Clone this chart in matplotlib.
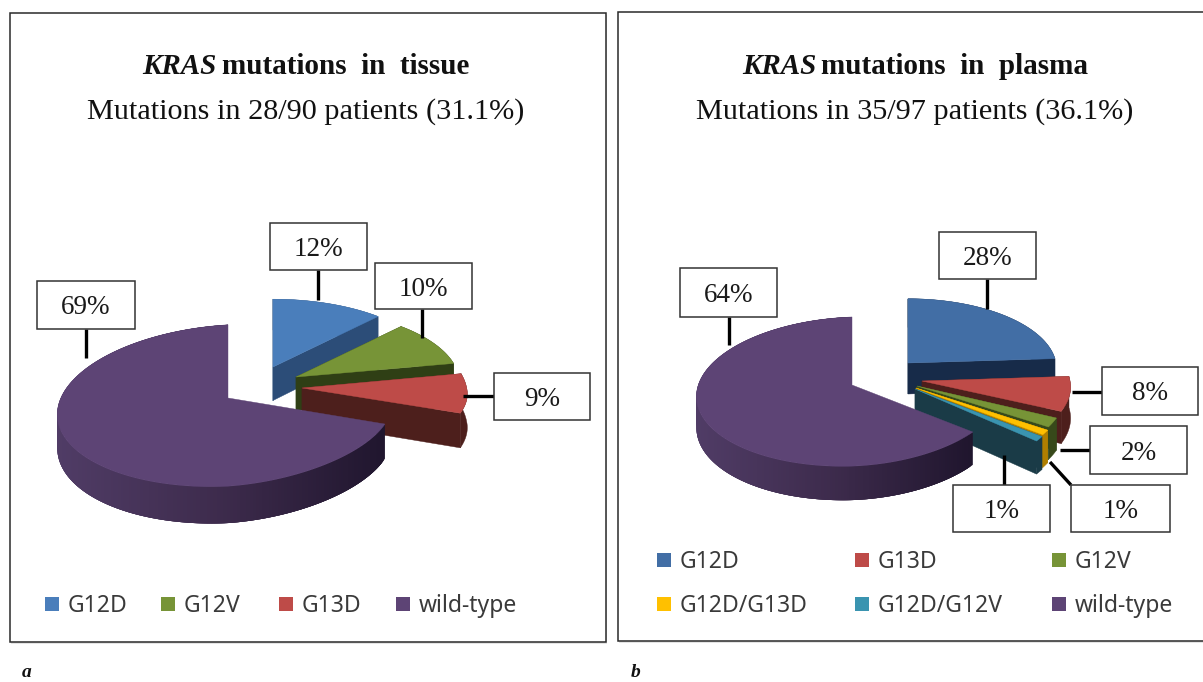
import numpy as np
import matplotlib
matplotlib.use("Agg")
import matplotlib.pyplot as plt
from matplotlib.patches import Polygon, Rectangle

# ---------- data ----------
tissue_names = ["G12D", "G12V", "G13D", "wild-type"]
tissue_values = [12, 10, 9, 69]
tissue_labels = ["12%", "10%", "9%", "69%"]

plasma_names = ["G12D", "G13D", "G12V", "G12D/G13D", "G12D/G12V", "wild-type"]
plasma_values = [24, 8, 2, 1, 1, 64]   # slice sizes as drawn
plasma_labels = ["28%", "8%", "2%", "1%", "1%", "64%"]

# ---------- styles / layout ----------
TOP = {"blue": "#4a7ebb", "blue2": "#426ea5", "green": "#779437", "red": "#be4b48",
       "purple": "#5d4475", "yellow": "#ffc000", "teal": "#3a94b0"}
t_top = [TOP["blue"], TOP["green"], TOP["red"], TOP["purple"]]
t_wall = ["#2c4d78", "#2f3f15", "#4d1f1c", None]
p_top = [TOP["blue2"], TOP["red"], TOP["green"], TOP["yellow"], TOP["teal"], TOP["purple"]]
p_wall = ["#172b49", "#4d1f1c", "#37491a", "#b07f00", "#1a3b47", None]
SERIF = "Liberation Serif"
LEG = "Noto Sans"

fig = plt.figure(figsize=(12.03, 6.82), dpi=100, facecolor="white")
ax = fig.add_axes([0, 0, 1, 1])
ax.set_xlim(0, 1203)
ax.set_ylim(682, 0)
ax.axis("off")


def proj(apex, t, sc, rx, ry, k, tilt, d=0.0):
    """Perspective projection of a point on the pie disc (t clockwise from 12 o'clock)."""
    c, s = sc[1] * np.cos(t), sc[0] * np.sin(t)
    w = 1.0 / (1.0 + k * c)
    x = np.where(s >= 0, rx[0], rx[1]) * s * w
    y = (-ry * c + d) * w
    y = y - np.where(s >= 0, tilt[0] * s * np.maximum(0, -c), tilt[1] * s)
    return apex[0] + x, apex[1] + y


def pie3d(values, apexes, tops, walls, scales, rx, ry, k, tilt, depth, grad_range):
    total = float(sum(values))
    a0 = 0.0
    for v, apex, ct, cw, sc in zip(values, apexes, tops, walls, scales):
        a1 = a0 + 2 * np.pi * v / total
        ts = np.linspace(a0, a1, 240)
        xt, yt = proj(apex, ts, sc, rx, ry, k, tilt)
        xb, yb = proj(apex, ts, sc, rx, ry, k, tilt, depth)
        x0, y0 = apex
        x0b, y0b = apex[0], apex[1] + depth
        if cw is not None:
            for i in (0, -1):
                ax.add_patch(Polygon([(x0, y0), (xt[i], yt[i]), (xb[i], yb[i]), (x0b, y0b)],
                                     fc=cw, ec=cw, lw=0.3, zorder=3))
            ax.add_patch(Polygon(list(zip(xt, yt)) + list(zip(xb, yb))[::-1],
                                 fc=cw, ec=cw, lw=0.3, zorder=3))
        else:
            xl, xr = grad_range
            left = np.array([0x50, 0x3c, 0x66]) / 255
            mid = np.array([0x3d, 0x2b, 0x4c]) / 255
            right = np.array([0x1f, 0x15, 0x2d]) / 255
            for i in range(len(ts) - 1):
                f = float(np.clip((xt[i] - xl) / (xr - xl), 0, 1))
                col = left + (mid - left) * f * 2 if f < .5 else mid + (right - mid) * (f - .5) * 2
                j = min(i + 4, len(ts) - 1)
                ax.add_patch(Polygon([(xt[i], yt[i]), (xt[j], yt[j]), (xb[j], yb[j]), (xb[i], yb[i])],
                                     fc=col, ec="none", zorder=3))
        ax.add_patch(Polygon([(x0, y0)] + list(zip(xt, yt)), fc=ct, ec=ct, lw=0.3, zorder=3))
        a0 = a1


def panel(x0, y0, x1, y1):
    ax.add_patch(Rectangle((x0 + 1, y0 + 2), x1 - x0, y1 - y0, fc="#e4e4e4", ec="none", zorder=0))
    ax.add_patch(Rectangle((x0, y0), x1 - x0, y1 - y0, fc="white", ec="#2a2a2a", lw=1.1, zorder=1))


def callout(text, box, line):
    x0, y0, x1, y1 = box
    ax.plot(line[0], line[1], color="black", lw=2.4, solid_capstyle="butt", zorder=4)
    ax.add_patch(Rectangle((x0, y0), x1 - x0, y1 - y0, fc="white", ec="#333333", lw=1.1, zorder=5))
    ax.text((x0 + x1) / 2, (y0 + y1) / 2 + 3, text, family=SERIF, fontsize=19.5, color="#1a1a1a",
            ha="center", va="center", zorder=6)


def title(cx, y, word, rest, sub):
    r = fig.canvas.get_renderer()
    a = ax.text(0, y, word, family=SERIF, fontsize=21, weight="bold", style="italic",
                va="center", color="#111111", zorder=6)
    b = ax.text(0, y, rest, family=SERIF, fontsize=21, weight="bold",
                va="center", color="#111111", zorder=6)
    wa = a.get_window_extent(r).width
    wb = b.get_window_extent(r).width
    gap = 5
    start = cx - (wa + gap + wb) / 2
    a.set_x(start)
    b.set_x(start + wa + gap)
    ax.text(cx, y + 46, sub, family=SERIF, fontsize=21.8, color="#111111",
            ha="center", va="center", zorder=6)


def legend_item(x, y, color, name):
    ax.add_patch(Rectangle((x, y - 7), 14, 14, fc=color, ec="none", zorder=6))
    ax.text(x + 23, y + 8, name, family=LEG, fontsize=16.5, color="#3a3a3a", va="baseline", zorder=6)


# ---------- panel a ----------
panel(10, 13, 606, 642)
title(306, 66, "KRAS", "mutations  in  tissue", "Mutations in 28/90 patients (31.1%)")
pie3d(tissue_values, [(273, 367), (296, 377), (302, 388), (228, 398)], t_top, t_wall,
      [(1, .92), (1, .92), (1.01, .97), (1, 1)], (163, 170), 80, 0.093, (13, 9), 33.5, (58, 390))
callout(tissue_labels[0], (270, 223, 367, 270), ([318, 318], [270, 300]))
callout(tissue_labels[1], (375, 263, 472, 309), ([422, 422], [309, 338]))
callout(tissue_labels[2], (494, 373, 590, 420), ([494, 463], [396, 396]))
callout(tissue_labels[3], (37, 281, 135, 329), ([86, 86], [329, 358]))
for x, name, c in zip([45, 161, 279, 396], tissue_names, t_top):
    legend_item(x, 604, c, name)

# ---------- panel b ----------
panel(618, 12, 1230, 641)
title(915, 66, "KRAS", "mutations  in  plasma", "Mutations in 35/97 patients (36.1%)")
pie3d(plasma_values, [(908, 363), (922, 381), (917, 386), (916, 388), (915, 389), (852, 385)],
      p_top, p_wall, [(1, .94), (1, 1), (1, 1.05), (1, 1.08), (1, 1.1), (1, 1)],
      (148, 155), 74, 0.088, (6, 5), 31, (697, 975))
callout(plasma_labels[0], (939, 232, 1036, 279), ([987, 987], [279, 309]))
callout(plasma_labels[1], (1102, 367, 1198, 415), ([1102, 1072], [392, 392]))
callout(plasma_labels[2], (1090, 426, 1187, 474), ([1090, 1060], [450, 450]))
callout(plasma_labels[3], (1071, 485, 1170, 532), ([1071, 1050], [485, 462]))
callout(plasma_labels[4], (953, 485, 1050, 532), ([1004, 1004], [485, 455]))
callout(plasma_labels[5], (680, 268, 777, 317), ([729, 729], [317, 345]))
for x, y, name, c in zip([657, 855, 1052, 657, 855, 1052], [560, 560, 560, 604, 604, 604],
                         plasma_names, p_top):
    legend_item(x, y, c, name)

ax.text(27, 677, "a", family=SERIF, fontsize=14, weight="bold", style="italic",
        ha="center", va="baseline", color="#111111")
ax.text(636, 677, "b", family=SERIF, fontsize=14, weight="bold", style="italic",
        ha="center", va="baseline", color="#111111")

fig.savefig("out.png", dpi=100)
